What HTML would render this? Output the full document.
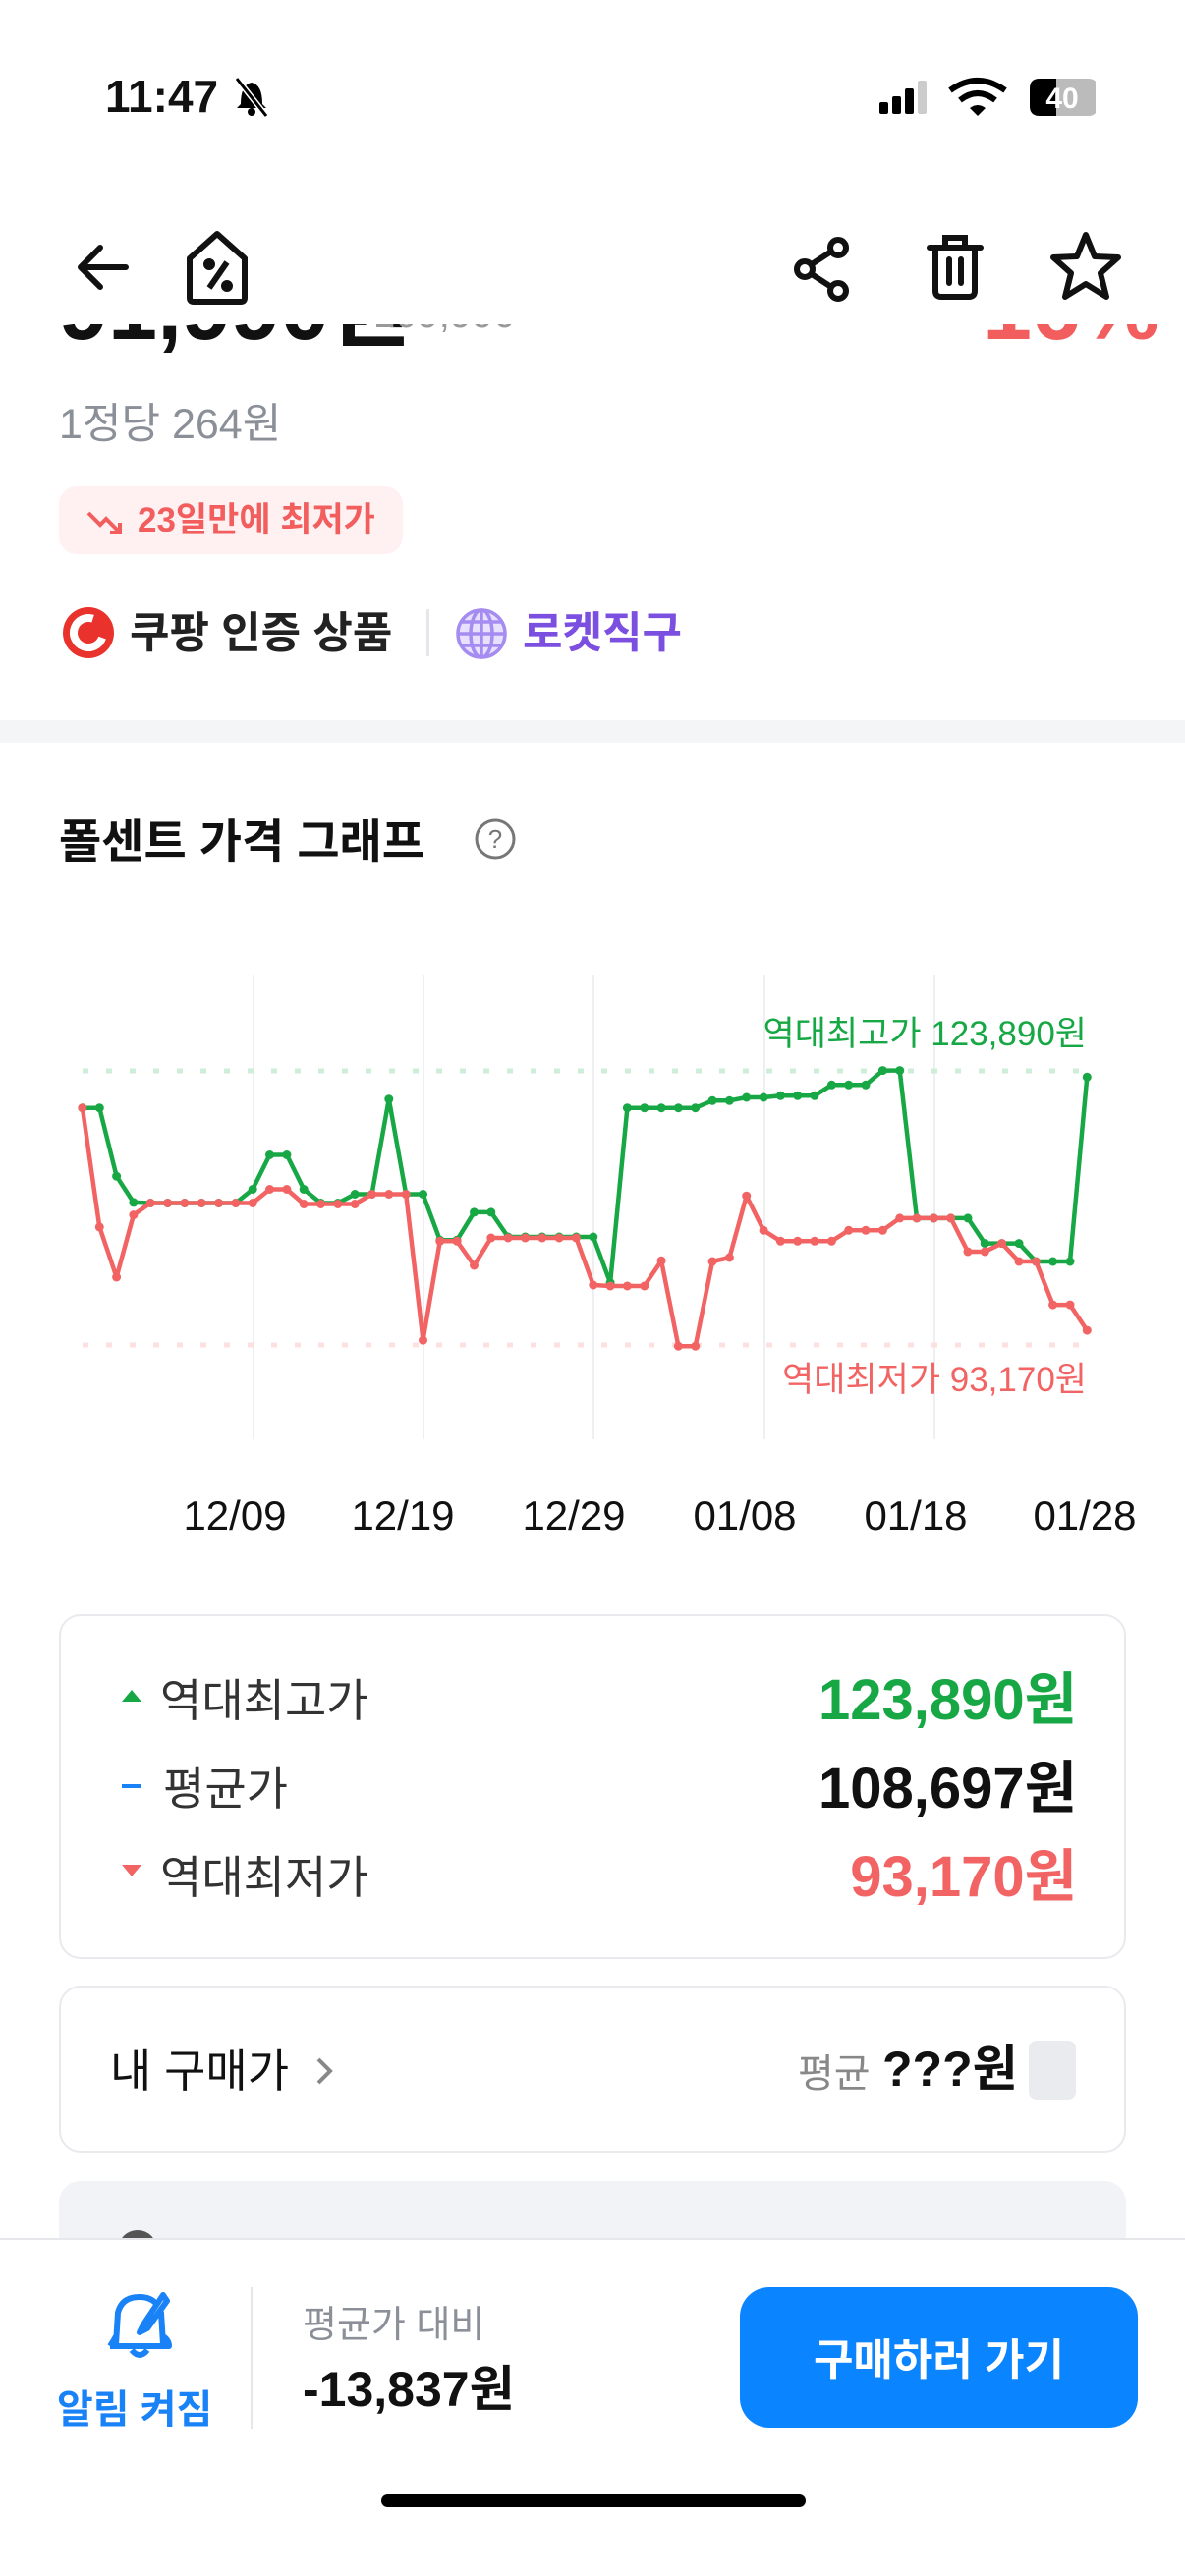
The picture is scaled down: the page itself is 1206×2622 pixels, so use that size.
<!DOCTYPE html>
<html><head><meta charset="utf-8">
<style>
*{margin:0;padding:0;box-sizing:border-box}
body{width:1206px;height:2622px;background:#fff;position:relative;overflow:hidden;font-family:"Liberation Sans","Noto Sans CJK KR",sans-serif;color:#111}
.a{position:absolute;white-space:nowrap;line-height:1.15}
.b{font-weight:bold}
</style></head><body>
<!-- cut-off price -->
<div class="a b" style="left:60px;top:270px;font-size:90px;line-height:1;color:#111">91,990원</div>
<div class="a" style="left:380px;top:300px;font-size:40px;line-height:1;color:#999">109,990</div>
<div class="a b" style="left:1000px;top:270px;font-size:90px;line-height:1;color:#f25e5e">16%</div>
<div class="a" style="left:0;top:0;width:1206px;height:330px;background:#fff"></div>
<!-- status bar -->
<div class="a b" style="left:107px;top:72px;font-size:46px">11:47</div>
<svg class="a" style="left:235px;top:76px" width="42" height="44" viewBox="0 0 42 44"><path d="M10 30 Q10 10 21 8 Q32 10 32 30 L36 34 H6Z" fill="#000"/><circle cx="21" cy="38" r="4" fill="#000"/><line x1="6" y1="4" x2="36" y2="42" stroke="#fff" stroke-width="6"/><line x1="6" y1="4" x2="36" y2="42" stroke="#000" stroke-width="3"/></svg>
<svg class="a" style="left:895px;top:78px" width="220" height="44"><rect x="0" y="26" width="9" height="12" rx="2"/><rect x="13" y="20" width="9" height="18" rx="2"/><rect x="26" y="12" width="9" height="26" rx="2"/><rect x="39" y="4" width="9" height="34" rx="2" fill="#ccc"/><path d="M72 14 Q100 -6 128 14" stroke="#000" stroke-width="6" fill="none"/><path d="M82 24 Q100 10 118 24" stroke="#000" stroke-width="6" fill="none"/><path d="M92 32 L100 40 L108 32 Q100 26 92 32Z"/><rect x="153" y="2" width="70" height="38" rx="10" fill="#bbb"/><path d="M163 2 H180 V40 H163 Q153 40 153 30 V12 Q153 2 163 2Z"/><text x="186" y="32" font-size="30" font-weight="bold" fill="#fff" text-anchor="middle" font-family="Liberation Sans">40</text></svg>
<!-- nav icons -->
<svg class="a" style="left:70px;top:240px" width="70" height="64" fill="none" stroke="#111" stroke-width="6" stroke-linecap="round" stroke-linejoin="round"><path d="M58 32 H14 M32 12 L12 32 L32 52"/></svg>
<svg class="a" style="left:185px;top:233px" width="75" height="80" fill="none" stroke="#111" stroke-width="6" stroke-linejoin="round"><path d="M8 70 V30 L36 5 L64 30 V70 Q64 74 60 74 H12 Q8 74 8 70Z"/><line x1="46" y1="34" x2="28" y2="60"/><circle cx="28" cy="36" r="3" fill="#111"/><circle cx="46" cy="58" r="3" fill="#111"/></svg>
<svg class="a" style="left:805px;top:238px" width="66" height="70" fill="none" stroke="#111" stroke-width="6"><circle cx="48" cy="14" r="8"/><circle cx="14" cy="36" r="8"/><circle cx="48" cy="58" r="8"/><line x1="21" y1="31" x2="41" y2="18"/><line x1="21" y1="41" x2="41" y2="54"/></svg>
<svg class="a" style="left:942px;top:236px" width="60" height="72" fill="none" stroke="#111" stroke-width="6" stroke-linecap="round"><path d="M4 16 H56 M20 16 V6 H40 V16 M10 16 V60 Q10 66 16 66 H44 Q50 66 50 60 V16 M24 28 V52 M36 28 V52"/></svg>
<svg class="a" style="left:1068px;top:234px" width="74" height="74" fill="none" stroke="#111" stroke-width="6" stroke-linejoin="round"><path d="M37 5 L46 27 L70 28 L52 44 L58 68 L37 55 L16 68 L22 44 L4 28 L28 27Z"/></svg>
<!-- info -->
<div class="a" style="left:60px;top:408px;font-size:43px;color:#8b9098">1정당 264원</div>
<div class="a" style="left:60px;top:495px;width:350px;height:69px;background:#fff1f1;border-radius:18px"></div>
<svg class="a" style="left:88px;top:512px" width="40" height="36" fill="none" stroke="#f25e5e" stroke-width="4"><path d="M2 10 L14 22 L20 16 L34 30 M24 30 H34 V20"/></svg>
<div class="a b" style="left:140px;top:510px;font-size:35px;color:#f25e5e">23일만에 최저가</div>
<svg class="a" style="left:62px;top:616px" width="56" height="56"><circle cx="28" cy="28" r="26" fill="#e8322b"/><circle cx="28" cy="28" r="15" fill="none" stroke="#fff" stroke-width="8" stroke-dasharray="70 30" transform="rotate(20 28 28)"/></svg>
<div class="a b" style="left:132px;top:620px;font-size:44px;color:#222">쿠팡 인증 상품</div>
<div class="a" style="left:434px;top:620px;width:3px;height:48px;background:#e5e7eb"></div>
<svg class="a" style="left:462px;top:617px" width="56" height="56" fill="none" stroke="#a58cf0" stroke-width="3.5"><circle cx="28" cy="28" r="24" fill="#e8e0ff"/><ellipse cx="28" cy="28" rx="11" ry="24"/><line x1="28" y1="4" x2="28" y2="52"/><line x1="4" y1="28" x2="52" y2="28"/><line x1="8" y1="16" x2="48" y2="16"/><line x1="8" y1="40" x2="48" y2="40"/></svg>
<div class="a b" style="left:532px;top:620px;font-size:44px;color:#7b4fe0">로켓직구</div>
<div class="a" style="left:0;top:733px;width:1206px;height:23px;background:#f4f5f7"></div>
<!-- chart title -->
<div class="a b" style="left:60px;top:830px;font-size:47px;color:#111">폴센트 가격 그래프</div>
<svg class="a" style="left:482px;top:832px" width="44" height="44" fill="none" stroke="#777" stroke-width="3"><circle cx="22" cy="22" r="19"/><text x="22" y="31" font-size="26" text-anchor="middle" fill="#777" stroke="none" font-family="Liberation Sans">?</text></svg>
<!-- chart -->
<svg class="a" style="left:0;top:0" width="1206" height="1600">
<g stroke="#eeeff1" stroke-width="2"><line x1="258" y1="992" x2="258" y2="1465"/><line x1="431" y1="992" x2="431" y2="1465"/><line x1="604" y1="992" x2="604" y2="1465"/><line x1="778" y1="992" x2="778" y2="1465"/><line x1="951" y1="992" x2="951" y2="1465"/></g>
<line x1="84" y1="1090" x2="1110" y2="1090" stroke="#cfeed8" stroke-width="5" stroke-dasharray="6 18"/>
<line x1="84" y1="1369" x2="1110" y2="1369" stroke="#fde0e0" stroke-width="5" stroke-dasharray="6 18"/>
<text x="1106" y="1064" font-size="35" fill="#17a845" text-anchor="end" font-family="Liberation Sans,Noto Sans CJK KR,sans-serif">역대최고가 123,890원</text>
<text x="1106" y="1416" font-size="35" fill="#f26464" text-anchor="end" font-family="Liberation Sans,Noto Sans CJK KR,sans-serif">역대최저가 93,170원</text>
<g id="lines"></g>
<g font-size="42" fill="#111" text-anchor="middle" font-family="Liberation Sans,sans-serif"><text x="239" y="1557">12/09</text><text x="410" y="1557">12/19</text><text x="584" y="1557">12/29</text><text x="758" y="1557">01/08</text><text x="932" y="1557">01/18</text><text x="1104" y="1557">01/28</text></g>
</svg>
<script>
var G=[532,532,740,820,822,822,822,822,822,822,780,675,675,780,822,822,795,795,505,795,795,935,935,850,850,925,925,925,925,925,925,1065,532,532,532,532,532,510,510,500,500,495,495,495,462,462,462,418,418,868,868,868,868,945,945,945,1000,1000,1000,438];
var R=[532,895,1048,858,822,822,822,822,822,822,822,780,780,825,825,825,825,795,795,795,1240,938,938,1012,928,928,928,928,928,928,1072,1075,1075,1075,998,1258,1258,1000,988,800,905,938,938,938,938,905,905,905,868,868,868,868,970,970,945,1000,1000,1132,1132,1210];
function X(i){return (50+(47+24*i)*0.722).toFixed(1)}function Y(y){return (950+y*0.334).toFixed(1)}
function draw(a,c){var p=a.map(function(y,i){return X(i)+','+Y(y)}).join(' ');var s='<polyline points="'+p+'" fill="none" stroke="'+c+'" stroke-width="4.5" stroke-linejoin="round"/>';a.forEach(function(y,i){s+='<circle cx="'+X(i)+'" cy="'+Y(y)+'" r="4.5" fill="'+c+'"/>'});return s;}
document.getElementById('lines').innerHTML=draw(G,'#17a845')+draw(R,'#f26464');
</script>
<!-- summary box -->
<div class="a" style="left:60px;top:1643px;width:1086px;height:351px;border:2px solid #e8eaee;border-radius:22px"></div>
<svg class="a" style="left:122px;top:1712px" width="24" height="200"><path d="M2 20 L12 8 L22 20Z" fill="#17a845"/><rect x="2" y="104" width="20" height="4" fill="#1a82f7"/><path d="M2 186 L12 198 L22 186Z" fill="#f26464"/></svg>
<div class="a" style="left:163px;top:1705px;font-size:46px;color:#333">역대최고가</div>
<div class="a" style="left:166px;top:1795px;font-size:46px;color:#333">평균가</div>
<div class="a" style="left:163px;top:1885px;font-size:46px;color:#333">역대최저가</div>
<div class="a b" style="right:110px;top:1698px;font-size:58px;color:#17a845">123,890원</div>
<div class="a b" style="right:110px;top:1788px;font-size:58px;color:#111">108,697원</div>
<div class="a b" style="right:110px;top:1878px;font-size:58px;color:#f26464">93,170원</div>
<!-- my price -->
<div class="a" style="left:60px;top:2021px;width:1086px;height:170px;border:2px solid #e8eaee;border-radius:22px"></div>
<div class="a" style="left:112px;top:2082px;font-size:46px;color:#111">내 구매가</div>
<svg class="a" style="left:318px;top:2090px" width="24" height="36" fill="none" stroke="#888" stroke-width="4"><path d="M6 6 L18 18 L6 30"/></svg>
<div class="a" style="left:812px;top:2088px;font-size:40px;color:#888">평균</div>
<div class="a b" style="left:898px;top:2078px;font-size:50px;color:#111">???원</div>
<div class="a" style="left:1047px;top:2077px;width:48px;height:60px;background:#e9ebee;border-radius:8px"></div>
<!-- third box -->
<div class="a" style="left:60px;top:2220px;width:1086px;height:120px;background:#f2f3f7;border-radius:22px"></div>
<div class="a" style="left:120px;top:2270px;width:40px;height:40px;background:#555;border-radius:50%"></div>
<!-- bottom bar -->
<div class="a" style="left:0;top:2278px;width:1206px;height:344px;background:#fff;border-top:2px solid #e5e7eb"></div>
<svg class="a" style="left:106px;top:2330px" width="74" height="80" fill="none" stroke="#1a82f7" stroke-width="6" stroke-linejoin="round"><path d="M12 56 L14 24 Q18 8 36 8 Q48 8 54 16 M58 24 L60 56 Z M6 58 H66 Q66 52 60 48"/><path d="M6 58 Q10 52 12 48"/><path d="M28 62 Q36 72 44 62"/><path d="M60 6 L40 36 L36 44 L44 40 L64 12Z"/></svg>
<div class="a b" style="left:58px;top:2430px;font-size:40px;color:#1a82f7">알림 켜짐</div>
<div class="a" style="left:255px;top:2328px;width:2px;height:144px;background:#e5e7eb"></div>
<div class="a" style="left:308px;top:2346px;font-size:38px;color:#8b9098">평균가 대비</div>
<div class="a b" style="left:308px;top:2404px;font-size:50px;color:#111">-13,837원</div>
<div class="a" style="left:753px;top:2328px;width:405px;height:143px;background:#0a84ff;border-radius:30px"></div>
<div class="a b" style="left:753px;top:2378px;width:405px;text-align:center;font-size:44px;color:#fff">구매하러 가기</div>
<div class="a" style="left:388px;top:2539px;width:432px;height:13px;background:#000;border-radius:7px"></div>
</body></html>
